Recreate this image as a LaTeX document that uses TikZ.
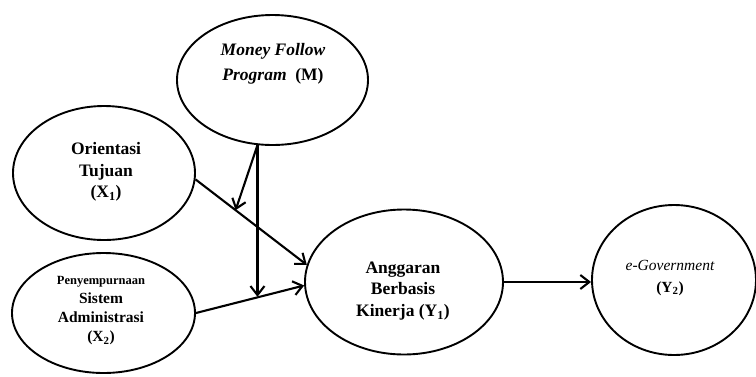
\documentclass[tikz,border=0pt]{standalone}
\usepackage{fontspec}
\setmainfont{Liberation Serif}
\usetikzlibrary{arrows.meta,calc,shapes.geometric}
\tikzset{
  var/.style={draw=black, line width=1.9pt, ellipse, inner sep=0pt},
  lbl/.style={align=center, inner sep=0pt, font=\bfseries\fontsize{17.5}{21.7}\selectfont},
  conn/.style={line width=2.1pt, -{Straight Barb[length=9pt,width=14pt,line width=2.1pt]}}
}
\begin{document}
\begin{tikzpicture}[x=1pt,y=-1pt]
\useasboundingbox (0,0) rectangle (756,376);
% ellipses
\node[var, minimum width=191pt, minimum height=130pt] (M)  at (272.5,80) {};
\node[var, minimum width=182pt, minimum height=134pt] (X1) at (104,173) {};
\node[var, minimum width=183pt, minimum height=120pt] (X2) at (103.5,313) {};
\node[var, minimum width=198pt, minimum height=145pt] (Y1) at (404,282) {};
\node[var, minimum width=164pt, minimum height=150pt] (Y2) at (674,280) {};
% labels
\node[lbl, font=\bfseries\itshape\fontsize{17.5}{25}\selectfont] (tM) at (273,64) {Money Follow\\Program\ \ \upshape(M)};
\node[lbl] (tX1) at (106,172) {Orientasi\\Tujuan\\(X\textsubscript{1})};
\node[lbl, font=\bfseries\fontsize{15.5}{19}\selectfont] (tX2) at (101,311) {{\fontsize{12.5}{19}\selectfont Penyempurnaan}\\Sistem\\Administrasi\\(X\textsubscript{2})};
\node[lbl] (tY1) at (403,291) {Anggaran\\Berbasis\\Kinerja (Y\textsubscript{1})};
\node[lbl, font=\bfseries\fontsize{15.5}{22}\selectfont] (tY2) at (670,278) {{\mdseries\itshape e-Government}\\(Y\textsubscript{2})};
% connector points
\coordinate (Mb) at (M.257);
\coordinate (p1) at ($(X1.-4)!0.36!(Y1.170)$);
\coordinate (p2) at ($(X2.0)!0.59!(Y1.182)$);
% connectors
\draw[conn] (X1.-4) -- (Y1.170);
\draw[conn] (X2.0) -- (Y1.182);
\draw[conn] (Mb) -- (p1);
\draw[conn] (Mb) -- (Mb |- p2);
\draw[conn] (Y1.east) -- (Y1.east -| Y2.west);
\end{tikzpicture}
\end{document}
